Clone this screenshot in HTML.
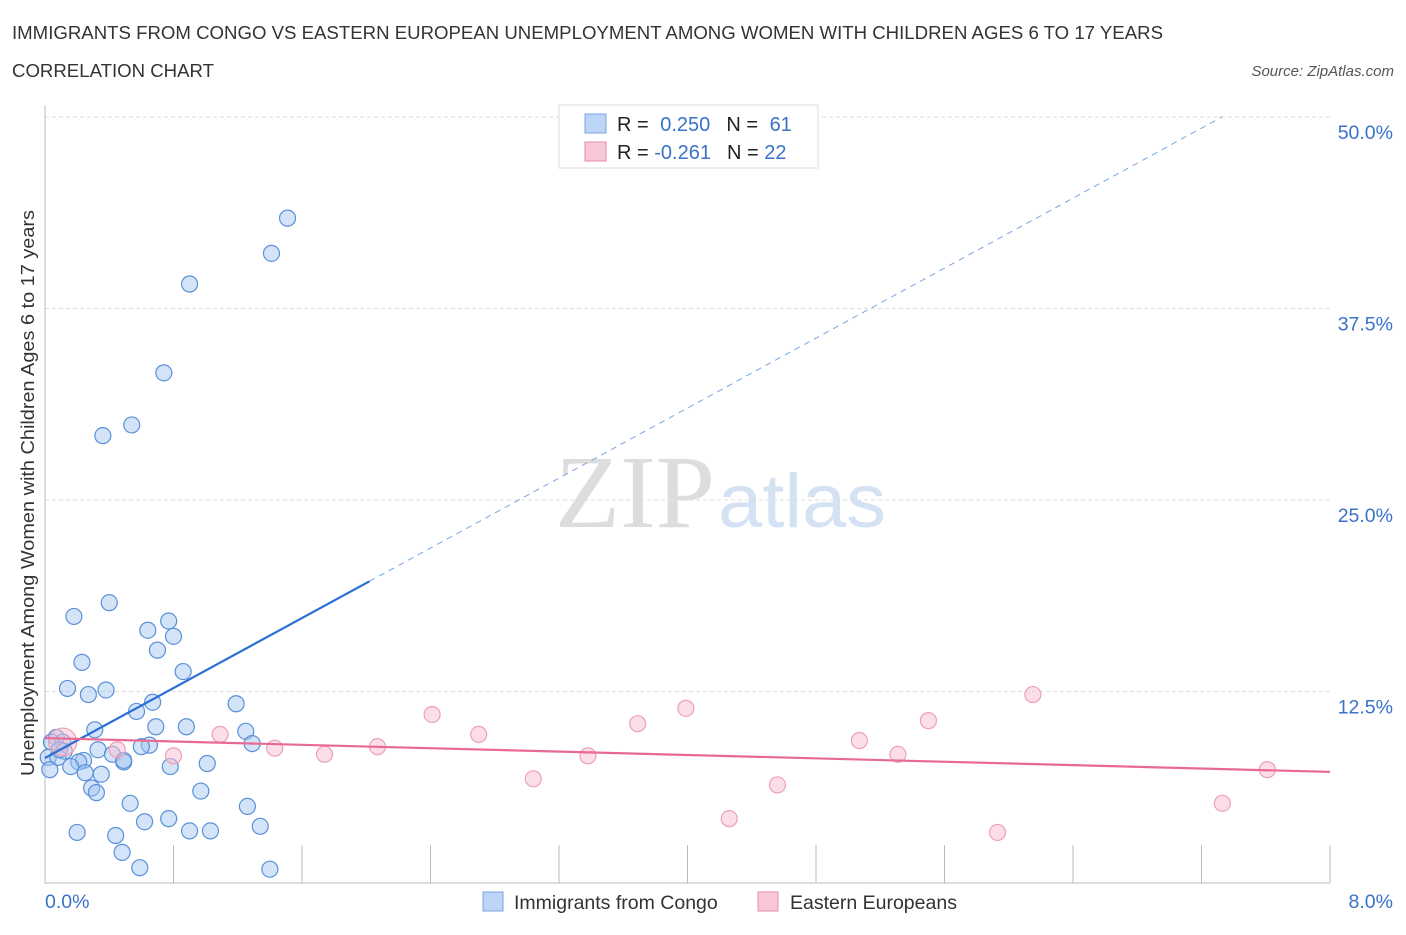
<!DOCTYPE html>
<html><head><meta charset="utf-8"><style>
body{margin:0;background:#fff;font-family:"Liberation Sans",sans-serif;}
</style></head><body>
<svg id="c" width="1406" height="930" xmlns="http://www.w3.org/2000/svg" style="font-family:'Liberation Sans',sans-serif">
<text x="12" y="39" font-size="18" fill="#333" textLength="1151" lengthAdjust="spacingAndGlyphs">IMMIGRANTS FROM CONGO VS EASTERN EUROPEAN UNEMPLOYMENT AMONG WOMEN WITH CHILDREN AGES 6 TO 17 YEARS</text>
<text x="12" y="77" font-size="18" fill="#333" textLength="202" lengthAdjust="spacingAndGlyphs">CORRELATION CHART</text>
<text x="1394" y="76" font-size="15" fill="#555" font-style="italic" text-anchor="end">Source: ZipAtlas.com</text>
<text x="635" y="527" font-size="104" fill="#ddd" font-family="Liberation Serif" text-anchor="middle" textLength="160" lengthAdjust="spacingAndGlyphs">ZIP</text>
<text x="802" y="527" font-size="76" fill="#d4e2f4" text-anchor="middle" textLength="168" lengthAdjust="spacingAndGlyphs">atlas</text>
<text transform="translate(34,493) rotate(-90)" font-size="18.5" fill="#333" text-anchor="middle" textLength="566" lengthAdjust="spacingAndGlyphs">Unemployment Among Women with Children Ages 6 to 17 years</text>
<g id="grid"></g><g id="ticks"></g><g id="marks"></g>
<text x="45" y="908" font-size="19.5" fill="#3a72c8">0.0%</text>
<text x="1393" y="908" font-size="19.5" fill="#3a72c8" text-anchor="end">8.0%</text>
<g>
<rect x="559" y="105" width="259" height="63" fill="#fff" stroke="#ddd"/>
<rect x="585" y="114" width="21" height="19" fill="#bcd4f6" stroke="#7aa5e0"/>
<rect x="585" y="142" width="21" height="19" fill="#f9c8d6" stroke="#e88aa6"/>
<text x="617" y="131" font-size="20" fill="#222">R = <tspan fill="#3a72c8" dx="6">0.250</tspan><tspan dx="16">N = </tspan><tspan fill="#3a72c8" dx="6">61</tspan></text>
<text x="617" y="159" font-size="20" fill="#222">R = <tspan fill="#3a72c8">-0.261</tspan><tspan dx="16">N = </tspan><tspan fill="#3a72c8">22</tspan></text>
</g>
<g>
<rect x="483" y="892" width="20" height="19" fill="#bcd4f6" stroke="#7aa5e0"/>
<text x="514" y="909" font-size="19.5" fill="#333">Immigrants from Congo</text>
<rect x="758" y="892" width="20" height="19" fill="#f9c8d6" stroke="#e88aa6"/>
<text x="790" y="909" font-size="19.5" fill="#333">Eastern Europeans</text>
</g>
</svg>
<script>
const yTicks=[12.5,25,37.5,50];
const yTickLabels=["12.5%","25.0%","37.5%","50.0%"];
const xTicks=[0,0.8,1.6,2.4,3.2,4,4.8,5.6,6.4,7.2,8];
const congoX=[1.51,1.41,0.90,0.74,0.54,0.36,0.40,0.18,0.77,0.64,0.80,0.70,0.23,0.86,0.14,0.38,0.27,1.19,0.67,0.57,0.31,0.69,0.88,1.25,0.07,0.11,0.12,0.04,0.02,0.08,0.33,0.42,0.65,0.60,1.29,0.24,0.49,0.21,0.16,0.25,0.35,0.49,0.03,1.01,0.78,0.29,0.32,0.97,0.53,1.26,0.62,0.77,0.20,0.44,0.90,1.03,1.34,0.48,0.59,1.40,0.09];
const congoY=[43.4,41.1,39.1,33.3,29.9,29.2,18.3,17.4,17.1,16.5,16.1,15.2,14.4,13.8,12.7,12.6,12.3,11.7,11.8,11.2,10.0,10.2,10.2,9.9,9.5,9.2,8.6,9.2,8.2,8.2,8.7,8.4,9.0,8.9,9.1,8.0,7.9,7.9,7.6,7.2,7.1,8.0,7.4,7.8,7.6,6.2,5.9,6.0,5.2,5.0,4.0,4.2,3.3,3.1,3.4,3.4,3.7,2.0,1.0,0.9,8.7];
const eastX=[0.11,0.45,0.80,1.09,1.43,1.74,2.07,2.41,2.70,3.04,3.38,3.69,3.99,4.26,4.56,5.07,5.31,5.50,5.93,6.15,7.33,7.61];
const eastY=[9.2,8.7,8.3,9.7,8.8,8.4,8.9,11.0,9.7,6.8,8.3,10.4,11.4,4.2,6.4,9.3,8.4,10.6,3.3,12.3,5.2,7.4];
const congoTrend=[8.16,5.71]; // intercept, slope
const eastTrend=[9.46,-0.276];
const NS='http://www.w3.org/2000/svg';
const X=v=>45+v/8*1285, Y=v=>883-v/12.5*191.5;
function mk(t,a,p){const e=document.createElementNS(NS,t);for(const k in a)e.setAttribute(k,a[k]);p.appendChild(e);return e;}
const grid=document.getElementById('grid'),ticks=document.getElementById('ticks'),marks=document.getElementById('marks');
yTicks.forEach((t,i)=>{
 const l=mk('line',{x1:45,x2:1330,y1:Y(t),y2:Y(t),stroke:'#ddd','stroke-dasharray':'4,3'},grid);
 
 
 const tx=mk('text',{x:1393,y:Y(t)+22,'font-size':19.5,fill:'#3a72c8','text-anchor':'end'},grid);
 tx.textContent=yTickLabels[i];
 
 
});
const ax=mk('line',{x1:45,x2:45,y1:105,y2:883,stroke:'#bbb'},ticks);


const bx=mk('line',{x1:45,x2:1330,y1:883,y2:883,stroke:'#bbb'},ticks);


xTicks.forEach(t=>{
 const l=mk('line',{x1:X(t),x2:X(t),y1:845,y2:883,stroke:'#bbb'},ticks);
 
 
});
congoX.forEach((x,i)=>{
 const c=mk('circle',{cx:X(x),cy:Y(congoY[i]),r:8,fill:'rgba(160,195,240,0.45)',stroke:'#5a90d8','stroke-width':1.2},marks);
 
 
});
eastX.forEach((x,i)=>{
 const c=mk('circle',{cx:X(x),cy:Y(eastY[i]),r:i==0?14:8,fill:'rgba(248,190,208,0.5)',stroke:'#eda0b8','stroke-width':1.2},marks);
 
 
});
const cf=x=>congoTrend[0]+congoTrend[1]*x, ef=x=>eastTrend[0]+eastTrend[1]*x;
const t1=mk('line',{x1:X(0),y1:Y(cf(0)),x2:X(2.02),y2:Y(cf(2.02)),stroke:'#2a6fd4','stroke-width':2.2},marks);


const t2=mk('line',{x1:X(2.02),y1:Y(cf(2.02)),x2:X(7.33),y2:Y(cf(7.33)),stroke:'#7aa5e0','stroke-width':1,'stroke-dasharray':'6,5'},marks);


const t3=mk('line',{x1:X(0),y1:Y(ef(0)),x2:X(8),y2:Y(ef(8)),stroke:'#e86a94','stroke-width':2.2},marks);


</script>
</body></html>
